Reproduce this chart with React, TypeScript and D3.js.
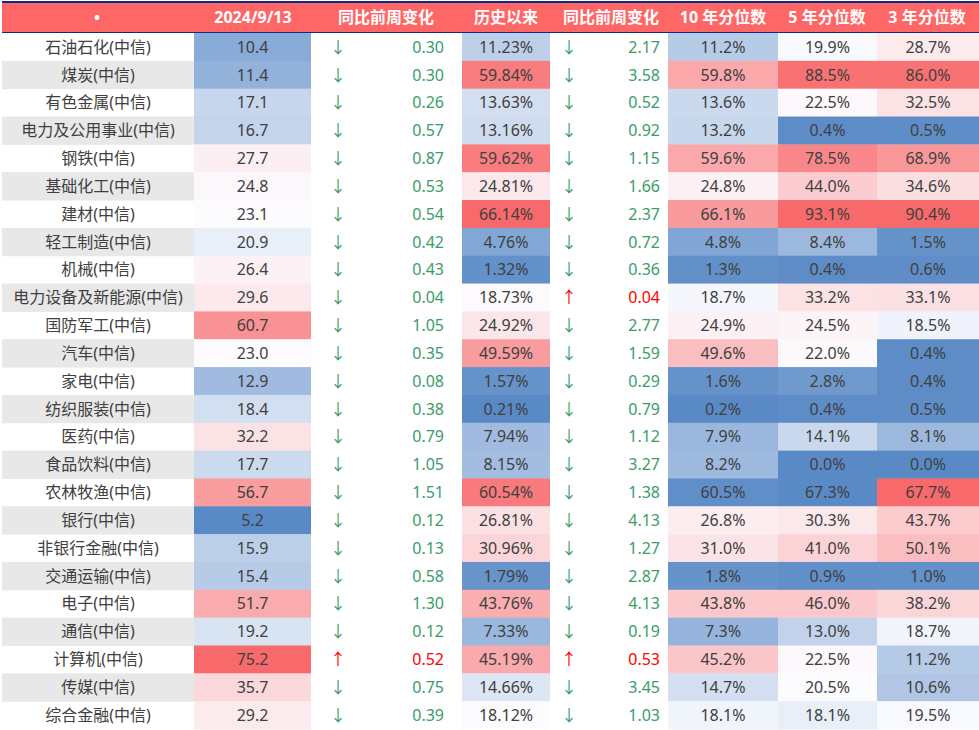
import React from "react";
import * as d3 from "d3";

const names = ["石油石化(中信)","煤炭(中信)","有色金属(中信)","电力及公用事业(中信)","钢铁(中信)","基础化工(中信)","建材(中信)","轻工制造(中信)","机械(中信)","电力设备及新能源(中信)","国防军工(中信)","汽车(中信)","家电(中信)","纺织服装(中信)","医药(中信)","食品饮料(中信)","农林牧渔(中信)","银行(中信)","非银行金融(中信)","交通运输(中信)","电子(中信)","通信(中信)","计算机(中信)","传媒(中信)","综合金融(中信)"];
const pe = [10.4,11.4,17.1,16.7,27.7,24.8,23.1,20.9,26.4,29.6,60.7,23.0,12.9,18.4,32.2,17.7,56.7,5.2,15.9,15.4,51.7,19.2,75.2,35.7,29.2];
const peChange = [-0.30,-0.30,-0.26,-0.57,-0.87,-0.53,-0.54,-0.42,-0.43,-0.04,-1.05,-0.35,-0.08,-0.38,-0.79,-1.05,-1.51,-0.12,-0.13,-0.58,-1.30,-0.12,0.52,-0.75,-0.39];
const histPct = [11.23,59.84,13.63,13.16,59.62,24.81,66.14,4.76,1.32,18.73,24.92,49.59,1.57,0.21,7.94,8.15,60.54,26.81,30.96,1.79,43.76,7.33,45.19,14.66,18.12];
const histChange = [-2.17,-3.58,-0.52,-0.92,-1.15,-1.66,-2.37,-0.72,-0.36,0.04,-2.77,-1.59,-0.29,-0.79,-1.12,-3.27,-1.38,-4.13,-1.27,-2.87,-4.13,-0.19,0.53,-3.45,-1.03];
const pct10 = [11.2,59.8,13.6,13.2,59.6,24.8,66.1,4.8,1.3,18.7,24.9,49.6,1.6,0.2,7.9,8.2,60.5,26.8,31.0,1.8,43.8,7.3,45.2,14.7,18.1];
const pct5 = [19.9,88.5,22.5,0.4,78.5,44.0,93.1,8.4,0.4,33.2,24.5,22.0,2.8,0.4,14.1,0.0,67.3,30.3,41.0,0.9,46.0,13.0,22.5,20.5,18.1];
const pct3 = [28.7,86.0,32.5,0.5,68.9,34.6,90.4,1.5,0.6,33.1,18.5,0.4,0.4,0.5,8.1,0.0,67.7,43.7,50.1,1.0,38.2,18.7,11.2,10.6,19.5];

const headers = ["•","2024/9/13","同比前周变化","历史以来","同比前周变化","10 年分位数","5 年分位数","3 年分位数"];

// colour-scale anchors (low, mid, high) for the percentile columns, as shaded in the source sheet
const pct10Domain = [0.2, 19.5, 90];
const pct5Domain = [0.0, 20.5, 93.1];
const pct3Domain = [0.0, 20.0, 90.4];
// cells whose shading in the source does not follow their shown value
const shadeOverrides = [
  { row: 16, col: "p10", shade: 0.8 },
  { row: 16, col: "p5", shade: 0.0 },
  { row: 16, col: "p3", shade: 90.4 },
];

const COLORS = ["#5A8AC6", "#FCFCFF", "#F8696B"];
const mkScale = (dom: number[]) =>
  d3.scaleLinear<string>().domain(dom).range(COLORS).interpolate(d3.interpolateRgb).clamp(true);

export default function App() {
  const W = 979, H = 730;
  const x0 = 2;
  const headTop = 3, headBot = 32;
  const rowTop = 33;
  const y = d3.scaleBand<number>().domain(d3.range(names.length)).range([rowTop, H - 1]).paddingInner(0).paddingOuter(0);
  const rh = y.bandwidth();

  const cols = { name: [x0, 194], pe: [194, 311], c1: [311, 462], hist: [462, 550], c2: [550, 668], p10: [668, 778], p5: [778, 877], p3: [877, 979] };
  const headerCenters = [97, 253, 386, 506, 611, 723, 827, 927];

  const peScale = mkScale([d3.min(pe)!, d3.median(pe)!, d3.max(pe)!]);
  const histScale = mkScale([d3.min(histPct)!, d3.median(histPct)!, d3.max(histPct)!]);
  const p10Scale = mkScale(pct10Domain);
  const p5Scale = mkScale(pct5Domain);
  const p3Scale = mkScale(pct3Domain);

  const shadeOf = (row: number, col: string, v: number) => {
    const o = shadeOverrides.find((s) => s.row === row && s.col === col);
    return o ? o.shade : v;
  };

  const font = "'Noto Sans', 'Noto Sans CJK SC', sans-serif";
  const textColor = "#404040";
  const green = "#3A9D68";
  const red = "#FF0000";

  const cellRect = (key: string, c: number[], i: number, fill: string) => (
    <rect key={key} x={c[0]} y={y(i)!} width={c[1] - c[0]} height={rh + 0.5} fill={fill} />
  );
  const centerText = (key: string, c: number[], i: number, s: string, color = textColor) => (
    <text key={key} x={(c[0] + c[1]) / 2} y={y(i)! + rh / 2} dy="0.36em" textAnchor="middle" fill={color}>{s}</text>
  );

  return (
    <div style={{ width: W, height: H }}>
      <style>{"body{margin:0;}"}</style>
      <svg width={W} height={H} style={{ display: "block", fontFamily: font }}>
        <rect x={0} y={0} width={W} height={H} fill="#FFFFFF" />
        {/* header */}
        <rect x={x0} y={headTop} width={W - x0} height={headBot - headTop} fill="#FF6666" />
        <rect x={x0} y={1} width={W - x0} height={2} fill="#0A2A8C" />
        <rect x={x0} y={headBot} width={W - x0} height={1} fill="#0A2A8C" />
        {headers.map((h, k) => (
          <text key={"h" + k} x={headerCenters[k]} y={(headTop + headBot) / 2} dy="0.36em" textAnchor="middle" fill="#FFFFFF" fontWeight="bold" fontSize={16}>{h}</text>
        ))}
        <g fontSize={16}>
          {names.map((n, i) => {
            const ci = peChange[i], ch = histChange[i];
            const cCol1 = ci > 0 ? red : green;
            const cCol2 = ch > 0 ? red : green;
            return (
              <g key={"r" + i}>
                {i % 2 === 1 && cellRect("nbg" + i, cols.name, i, "#E8E8E8")}
                {cellRect("pe" + i, cols.pe, i, peScale(pe[i]))}
                {cellRect("hist" + i, cols.hist, i, histScale(histPct[i]))}
                {cellRect("p10" + i, cols.p10, i, p10Scale(shadeOf(i, "p10", pct10[i])))}
                {cellRect("p5" + i, cols.p5, i, p5Scale(shadeOf(i, "p5", pct5[i])))}
                {cellRect("p3" + i, cols.p3, i, p3Scale(shadeOf(i, "p3", pct3[i])))}
                {centerText("nt" + i, cols.name, i, n)}
                {centerText("pet" + i, cols.pe, i, pe[i].toFixed(1))}
                <text x={338} y={y(i)! + rh / 2} dy="0.36em" textAnchor="middle" fill={cCol1}>{ci > 0 ? "↑" : "↓"}</text>
                <text x={444} y={y(i)! + rh / 2} dy="0.36em" textAnchor="end" fill={cCol1}>{Math.abs(ci).toFixed(2)}</text>
                {centerText("ht" + i, cols.hist, i, histPct[i].toFixed(2) + "%")}
                <text x={569} y={y(i)! + rh / 2} dy="0.36em" textAnchor="middle" fill={cCol2}>{ch > 0 ? "↑" : "↓"}</text>
                <text x={660} y={y(i)! + rh / 2} dy="0.36em" textAnchor="end" fill={cCol2}>{Math.abs(ch).toFixed(2)}</text>
                {centerText("p10t" + i, cols.p10, i, pct10[i].toFixed(1) + "%")}
                {centerText("p5t" + i, cols.p5, i, pct5[i].toFixed(1) + "%")}
                {centerText("p3t" + i, cols.p3, i, pct3[i].toFixed(1) + "%")}
              </g>
            );
          })}
        </g>
      </svg>
    </div>
  );
}
